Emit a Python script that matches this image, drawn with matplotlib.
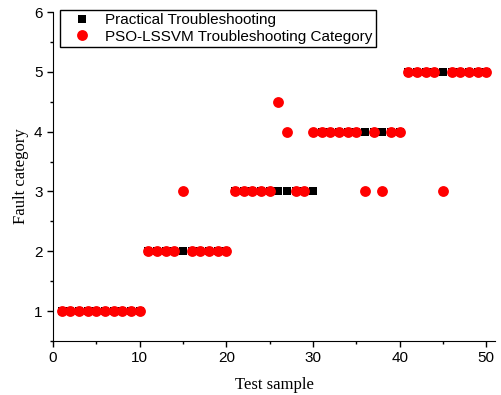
import matplotlib
matplotlib.use("Agg")
import matplotlib.pyplot as plt
from matplotlib.ticker import MultipleLocator

# dados
amostras = list(range(1, 51))
pratico = [1] * 10 + [2] * 10 + [3] * 10 + [4] * 10 + [5] * 10
pso_lssvm = ([1] * 10
             + [2, 2, 2, 2, 3, 2, 2, 2, 2, 2]
             + [3, 3, 3, 3, 3, 4.5, 4, 3, 3, 4]
             + [4, 4, 4, 4, 4, 3, 4, 3, 4, 4]
             + [5, 5, 5, 5, 3, 5, 5, 5, 5, 5])

plt.rcParams['font.family'] = ['Liberation Sans', 'DejaVu Sans']

fig = plt.figure(figsize=(5.01, 3.95), dpi=100)
ax = fig.add_axes([53 / 501, 1 - 341 / 395, (495 - 53) / 501, (341 - 12) / 395])

# quadrados pretos por baixo, círculos vermelhos por cima
ax.plot(amostras, pratico, 's', color='black', markersize=5.6, markeredgewidth=0,
        linestyle='none', label='Practical Troubleshooting', zorder=2)
ax.plot(amostras, pso_lssvm, 'o', color='red', markersize=7.8, markeredgewidth=0,
        linestyle='none', label='PSO-LSSVM Troubleshooting Category', zorder=3)

ax.set_xlim(0, 51)
ax.set_ylim(0.5, 6)
ax.xaxis.set_major_locator(MultipleLocator(10))
ax.xaxis.set_minor_locator(MultipleLocator(5))
ax.yaxis.set_major_locator(MultipleLocator(1))
ax.yaxis.set_minor_locator(MultipleLocator(0.5))
ax.tick_params(which='major', direction='out', length=4, width=1, labelsize=11)
ax.tick_params(which='minor', direction='out', length=2.5, width=1)
ax.spines['top'].set_visible(False)
ax.spines['right'].set_visible(False)

ax.set_xlabel('Test sample', family='Liberation Serif', fontsize=12, labelpad=8)
ax.set_ylabel('Fault category', family='Liberation Serif', fontsize=12)

leg = ax.legend(loc='upper left', bbox_to_anchor=(0.015, 1.005), fontsize=11,
                fancybox=False, edgecolor='black', framealpha=1,
                borderpad=0.2, labelspacing=0.15, handletextpad=0.3,
                handlelength=2.5, borderaxespad=0)
leg.get_frame().set_linewidth(1)

fig.savefig('out.png', dpi=100)
